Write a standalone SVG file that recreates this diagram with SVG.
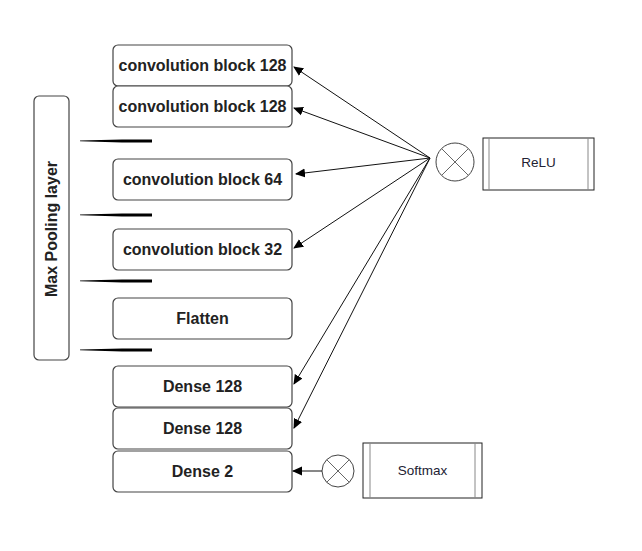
<svg xmlns="http://www.w3.org/2000/svg" width="642" height="551" viewBox="0 0 642 551">
<defs>
<style>
.box{fill:#fff;stroke:#444;stroke-width:1.2}
.lbl{font-family:"Liberation Sans",Arial,sans-serif;font-weight:bold;font-size:16px;fill:#222;text-anchor:middle}
.sm{font-family:"Liberation Sans",Arial,sans-serif;font-size:13.5px;fill:#223;text-anchor:middle}
.op{fill:#fff;stroke:#444;stroke-width:1}
.opx{stroke:#666;stroke-width:1}
.conn{stroke:#111;stroke-width:1;fill:none;marker-end:url(#ah)}
.pool{fill:#000}
</style>
<marker id="ah" viewBox="0 0 10 10" refX="9" refY="5" markerWidth="10" markerHeight="10" markerUnits="userSpaceOnUse" orient="auto">
<path d="M0,0.5 L10,5 L0,9.5 Z" fill="#000"/>
</marker>
</defs>
<rect width="642" height="551" fill="#fff"/>
<g id="maxpool">
<rect class="box" x="34" y="96" width="35" height="264" rx="5"/>
<text class="lbl" transform="translate(57,229) rotate(-90)">Max Pooling layer</text>
</g>
<g id="pool-marks">
<polygon class="pool" points="80,140.5 122,139.5 152,139.5 152,142.5 122,142.5 80,141.3"/>
<polygon class="pool" points="80,214.5 122,213.5 152,213.5 152,216.5 122,216.5 80,215.3"/>
<polygon class="pool" points="80,280.5 122,279.5 152,279.5 152,282.5 122,282.5 80,281.3"/>
<polygon class="pool" points="80,349.5 122,348.5 152,348.5 152,351.5 122,351.5 80,350.3"/>
</g>
<g id="conv128a"><rect class="box" x="113" y="45" width="179" height="41" rx="5"/><text class="lbl" x="202.5" y="71">convolution block 128</text></g>
<g id="conv128b"><rect class="box" x="113" y="86" width="179" height="41" rx="5"/><text class="lbl" x="202.5" y="112">convolution block 128</text></g>
<g id="conv64"><rect class="box" x="113" y="159" width="179" height="41" rx="5"/><text class="lbl" x="202.5" y="185">convolution block 64</text></g>
<g id="conv32"><rect class="box" x="113" y="229" width="179" height="41" rx="5"/><text class="lbl" x="202.5" y="255">convolution block 32</text></g>
<g id="flatten"><rect class="box" x="113" y="298" width="179" height="41" rx="5"/><text class="lbl" x="202.5" y="324">Flatten</text></g>
<g id="dense128a"><rect class="box" x="113" y="366" width="179" height="41" rx="5"/><text class="lbl" x="202.5" y="392">Dense 128</text></g>
<g id="dense128b"><rect class="box" x="113" y="408" width="179" height="41" rx="5"/><text class="lbl" x="202.5" y="434">Dense 128</text></g>
<g id="dense2"><rect class="box" x="113" y="451" width="179" height="41" rx="5"/><text class="lbl" x="202.5" y="477">Dense 2</text></g>
<g id="relu-op">
<circle class="op" cx="455" cy="162" r="19"/>
<line class="opx" x1="441.6" y1="148.6" x2="468.4" y2="175.4"/>
<line class="opx" x1="468.4" y1="148.6" x2="441.6" y2="175.4"/>
</g>
<g id="relu">
<rect x="483" y="138" width="111" height="52" fill="#fff" stroke="#222" stroke-width="1"/>
<line x1="489" y1="138" x2="489" y2="190" stroke="#888" stroke-width="1"/>
<line x1="588" y1="138" x2="588" y2="190" stroke="#888" stroke-width="1"/>
<text class="sm" x="538.5" y="167">ReLU</text>
</g>
<g id="softmax-op">
<circle class="op" cx="338" cy="471" r="16"/>
<line class="opx" x1="326.7" y1="459.7" x2="349.3" y2="482.3"/>
<line class="opx" x1="349.3" y1="459.7" x2="326.7" y2="482.3"/>
</g>
<g id="softmax">
<rect x="363" y="443" width="119" height="55" fill="#fff" stroke="#222" stroke-width="1"/>
<line x1="370" y1="443" x2="370" y2="498" stroke="#888" stroke-width="1"/>
<line x1="475" y1="443" x2="475" y2="498" stroke="#888" stroke-width="1"/>
<text class="sm" x="422.5" y="474.5">Softmax</text>
</g>
<g id="connectors">
<line class="conn" x1="430" y1="158" x2="294" y2="67"/>
<line class="conn" x1="430" y1="158" x2="294" y2="108"/>
<line class="conn" x1="430" y1="158" x2="296" y2="174"/>
<line class="conn" x1="430" y1="158" x2="294" y2="248"/>
<line class="conn" x1="430" y1="158" x2="294" y2="384"/>
<line class="conn" x1="430" y1="158" x2="294" y2="428"/>
<line class="conn" x1="322" y1="471" x2="293" y2="471"/>
</g>
</svg>
